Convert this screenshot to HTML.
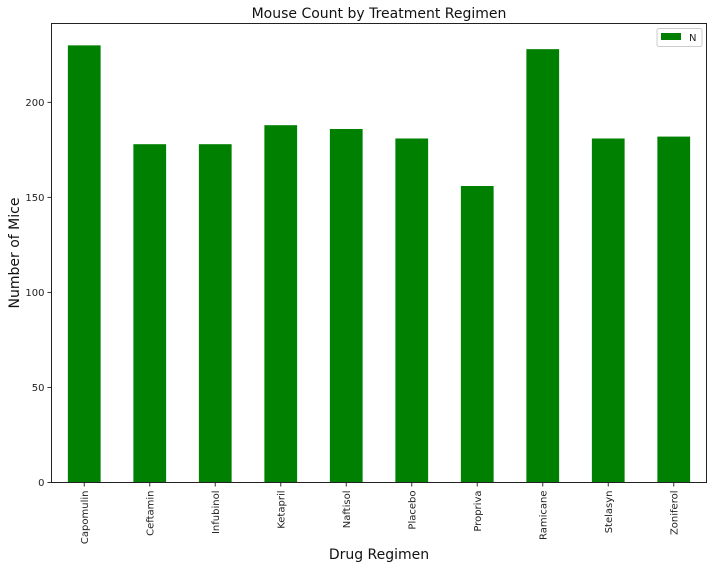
<!DOCTYPE html>
<html><head><meta charset="utf-8"><style>
body{margin:0;background:#fff;font-family:"DejaVu Sans","Liberation Sans",sans-serif;}
svg text{font-family:"DejaVu Sans","Liberation Sans",sans-serif;}
</style></head><body>
<svg id="chart" width="712" height="568" xmlns="http://www.w3.org/2000/svg"></svg>
<script>
const categories=["Capomulin","Ceftamin","Infubinol","Ketapril","Naftisol","Placebo","Propriva","Ramicane","Stelasyn","Zoniferol"];
const counts=[230,178,178,188,186,181,156,228,181,182];
const yTicks=[0,50,100,150,200];
const L=51.5,R=706.5,T=23.5,B=482.5,YMAX=241.5;
const svg=document.getElementById('chart');
const NS="http://www.w3.org/2000/svg";
function y(v){return B-(v/YMAX)*(B-T);}
const step=(R-L)/categories.length;
function xc(i){return L+step*(i+0.5);}
function mk(tag,attrs,text){const e=document.createElementNS(NS,tag);for(const k in attrs)e.setAttribute(k,attrs[k]);if(text!==undefined)e.textContent=text;svg.appendChild(e);return e;}
counts.forEach((v,i)=>{const w=step*0.5;
const r=mk('rect',{x:xc(i)-w/2,y:y(v),width:w,height:B-y(v),fill:'#008000'});


const t=mk('line',{x1:xc(i),x2:xc(i),y1:B,y2:B+4,stroke:'#333'});
const lb=mk('text',{transform:`translate(${xc(i)+3.5},${B+8}) rotate(-90)`,'text-anchor':'end','font-size':10,fill:'#222'},categories[i]);


});
yTicks.forEach(v=>{mk('line',{x1:L-4,x2:L,y1:y(v),y2:y(v),stroke:'#333'});
const t=mk('text',{x:L-7,y:y(v)+3.5,'text-anchor':'end','font-size':10,fill:'#222'},v);


});
const ax=mk('rect',{x:L,y:T,width:R-L,height:B-T,fill:'none',stroke:'#222','stroke-width':1});


const ti=mk('text',{x:(L+R)/2,y:18,'text-anchor':'middle','font-size':14,fill:'#111'},'Mouse Count by Treatment Regimen');


const xt=mk('text',{x:(L+R)/2,y:559,'text-anchor':'middle','font-size':14,fill:'#111'},'Drug Regimen');


const yt=mk('text',{transform:`translate(19,${(T+B)/2}) rotate(-90)`,'text-anchor':'middle','font-size':14,fill:'#111'},'Number of Mice');


const lg=mk('rect',{x:657,y:28.5,width:45,height:18,rx:2,fill:'#fff',stroke:'#ccc'});


const lp=mk('rect',{x:661,y:33,width:20,height:7,fill:'#008000'});


const ln=mk('text',{x:689,y:41,'font-size':10,fill:'#222'},'N');


</script>
</body></html>
